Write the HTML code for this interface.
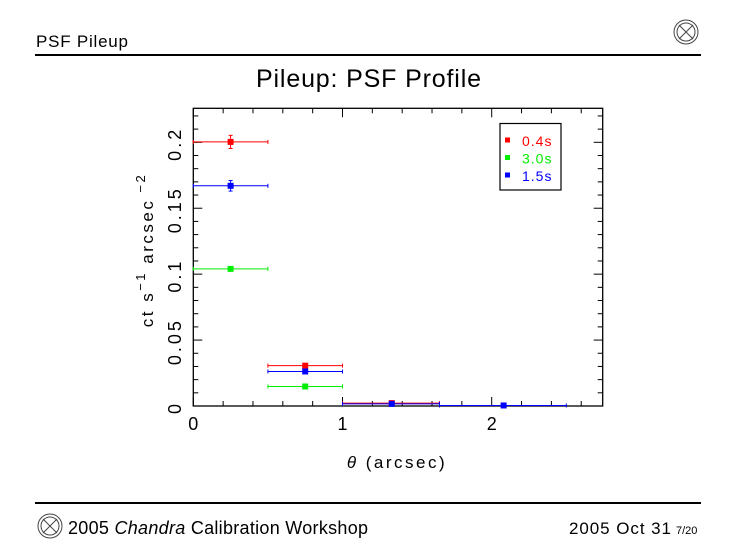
<!DOCTYPE html>
<html><head><meta charset="utf-8"><style>
body{margin:0;background:#fff;width:737px;height:553px;overflow:hidden;font-family:"Liberation Sans",sans-serif;}
svg{position:absolute;left:0;top:0}
</style></head><body>
<svg width="737" height="553">
<text x="36" y="47" font-size="17" textLength="92">PSF Pileup</text>
<g fill="none" stroke="#444" stroke-width="1">
<circle cx="686" cy="32" r="12"/><circle cx="686" cy="32" r="9"/><line x1="679" y1="39" x2="693" y2="25"/><line x1="679" y1="25" x2="693" y2="39"/></g>
<line x1="35" y1="55" x2="701" y2="55" stroke="#000" stroke-width="2"/>
<text x="256" y="87" font-size="25" textLength="225">Pileup: PSF Profile</text>
<g id="chart"></g>
<line x1="35" y1="503" x2="701" y2="503" stroke="#000" stroke-width="2"/>
<g fill="none" stroke="#444" stroke-width="1">
<circle cx="50" cy="526" r="12"/><circle cx="50" cy="526" r="9"/><line x1="43" y1="533" x2="57" y2="519"/><line x1="43" y1="519" x2="57" y2="533"/></g>
<text x="68" y="534" font-size="18" textLength="300">2005 <tspan font-style="italic">Chandra</tspan> Calibration Workshop</text>
<text x="569" y="534" font-size="17" textLength="102">2005 Oct 31</text>
<text x="676" y="534" font-size="11">7/20</text>
</svg>
<script>
const seriesNames=["0.4s","3.0s","1.5s"];
const seriesColors=["#ff0000","#00ee00","#0000ff"];
const xCenters=[[0.25,0.75,1.33],[0.25,0.75],[0.25,0.75,1.33,2.08]];
const xLo=[[0,0.5,1],[0,0.5],[0,0.5,1,1.65]];
const xHi=[[0.5,1,1.65],[0.5,1],[0.5,1,1.65,2.5]];
const yVals=[[0.2003,0.0306,0.0022],[0.1040,0.0148],[0.1670,0.0262,0.0016,0.0004]];
const yErr=[[0.005,0.0015,0.0003],[0.0015,0.001],[0.004,0.0012,0.0003,0.0002]];
const xTicks=[0,1,2];
const yTicks=[0,0.05,0.1,0.15,0.2];
const L=193.3,R=602.7,T=108.3,B=406;
const xs=v=>L+v*149.2, ys=v=>B-v*1318.5;
const NS="http://www.w3.org/2000/svg";
const g=document.getElementById('chart');
function mk(t,a,p){const e=document.createElementNS(NS,t);for(const k in a)e.setAttribute(k,a[k]);(p||g).appendChild(e);return e;}
const frame=mk('rect',{x:L,y:T,width:R-L,height:B-T,fill:'none',stroke:'#000','stroke-width':1.3});


for(let v=0;v<=2.7;v+=0.2){const big=Math.abs(v-Math.round(v))<1e-6;const len=big?9:5;const x=xs(v);
mk('line',{x1:x,y1:B,x2:x,y2:B-len,stroke:'#000'});mk('line',{x1:x,y1:T,x2:x,y2:T+len,stroke:'#000'});}
for(let i=0;i<=22;i++){const v=i*0.01;const big=i%5==0;const len=big?9:5;const y=ys(v);
mk('line',{x1:L,y1:y,x2:L+len,y2:y,stroke:'#000'});mk('line',{x1:R,y1:y,x2:R-len,y2:y,stroke:'#000'});}
xTicks.forEach(v=>{const t=mk('text',{x:xs(v),y:430,'font-size':18,'text-anchor':'middle'});t.textContent=v;

});
yTicks.forEach(v=>{const y=ys(v);const t=mk('text',{x:0,y:0,'font-size':18,'letter-spacing':3,'text-anchor':'middle',transform:`translate(181,${y+1.5}) rotate(-90)`});t.textContent=String(v);

});
const xl=mk('text',{x:397,y:468,'font-size':17,'letter-spacing':2.5,'text-anchor':'middle'});xl.innerHTML='<tspan font-style="italic">θ</tspan> (arcsec)';


const yl=mk('text',{x:0,y:0,'font-size':17,'letter-spacing':2.5,'text-anchor':'middle',transform:'translate(153,250) rotate(-90)'});
yl.innerHTML='ct s<tspan dy="-8" font-size="13">−1</tspan><tspan dy="8">  arcsec</tspan><tspan dy="-8" font-size="13"> −2</tspan>';


[0,2,1].forEach(s=>{const c=seriesColors[s];
xCenters[s].forEach((xc,i)=>{const y=ys(yVals[s][i]);const pg=mk('g',{});


mk('line',{x1:xs(xLo[s][i]),y1:y,x2:xs(xHi[s][i]),y2:y,stroke:c},pg);
mk('line',{x1:xs(xLo[s][i]),y1:y-2,x2:xs(xLo[s][i]),y2:y+2,stroke:c},pg);
mk('line',{x1:xs(xHi[s][i]),y1:y-2,x2:xs(xHi[s][i]),y2:y+2,stroke:c},pg);
const x=xs(xc),e=yErr[s][i]*1318.5;
mk('line',{x1:x,y1:y-e,x2:x,y2:y+e,stroke:c},pg);
mk('line',{x1:x-2,y1:y-e,x2:x+2,y2:y-e,stroke:c},pg);
mk('line',{x1:x-2,y1:y+e,x2:x+2,y2:y+e,stroke:c},pg);
mk('rect',{x:x-3,y:y-3,width:6,height:6,fill:c},pg);});});
const lg=mk('g',{});


mk('rect',{x:500,y:123.5,width:61,height:66.5,fill:'#fff',stroke:'#000','stroke-width':1.2},lg);
seriesNames.forEach((n,i)=>{const y=142+i*17.5;
const e=mk('g',{},lg);


mk('rect',{x:505,y:y-4.5,width:5,height:5,fill:seriesColors[i]},e);
const t=mk('text',{x:522,y:y+4,'font-size':14,'letter-spacing':1,fill:seriesColors[i]},e);t.textContent=n;});
</script>
</body></html>
